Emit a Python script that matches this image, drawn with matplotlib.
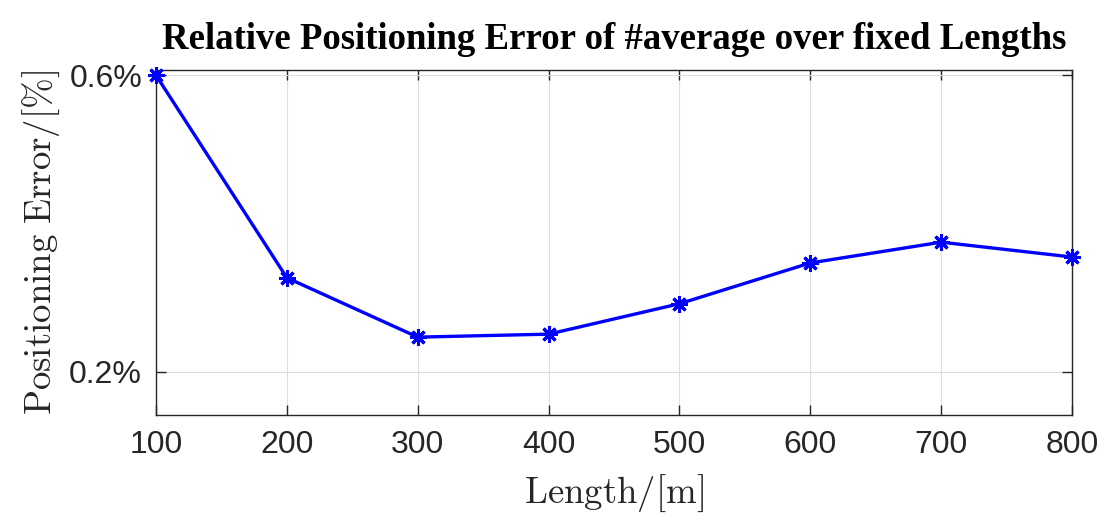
import matplotlib
matplotlib.use("Agg")
import matplotlib.pyplot as plt
from matplotlib.ticker import FuncFormatter

# data
lengths = [100, 200, 300, 400, 500, 600, 700, 800]
rel_error = [0.600, 0.327, 0.247, 0.251, 0.292, 0.347, 0.375, 0.355]
y_ticks = [0.2, 0.6]

plt.rcParams['mathtext.fontset'] = 'cm'

fig = plt.figure(figsize=(11.08, 5.25), dpi=100)
ax = fig.add_axes([0.1408, 0.2095, 0.8267, 0.657])

ax.plot(lengths, rel_error, color='#0000ff', linewidth=2.4,
        marker=(8, 2, 0), markersize=12, markeredgewidth=2.2,
        markeredgecolor='#0000ff', clip_on=False, zorder=3)

ax.set_xlim(100, 800)
ax.set_ylim(0.142, 0.607)
ax.set_xticks(lengths)
ax.set_yticks(y_ticks)
ax.yaxis.set_major_formatter(FuncFormatter(lambda v, p: f"{v:.1f}%"))

ax.grid(True, color='#dedede', linewidth=0.8)
ax.set_axisbelow(True)
for s in ax.spines.values():
    s.set_color('#262626')
    s.set_linewidth(1.0)
ax.tick_params(direction='in', length=7, width=1.0, color='#262626',
               labelsize=23, labelcolor='#262626', top=True, right=True)
ax.tick_params(axis='x', pad=11)
ax.tick_params(axis='y', pad=10)
for lab in ax.get_xticklabels() + ax.get_yticklabels():
    lab.set_family('Liberation Sans')

ax.set_xlabel(r'$\mathrm{Length/[m]}$', fontsize=26.5, color='#262626',
              labelpad=9)
ax.set_ylabel(r'$\mathrm{Positioning\ Error/[\%]}$', fontsize=26.5,
              color='#262626', labelpad=5)
ax.set_title('Relative Positioning Error of #average over fixed Lengths',
             fontsize=26.5, fontweight='bold', family='Liberation Serif',
             pad=15)

fig.savefig('out.png', dpi=100)
